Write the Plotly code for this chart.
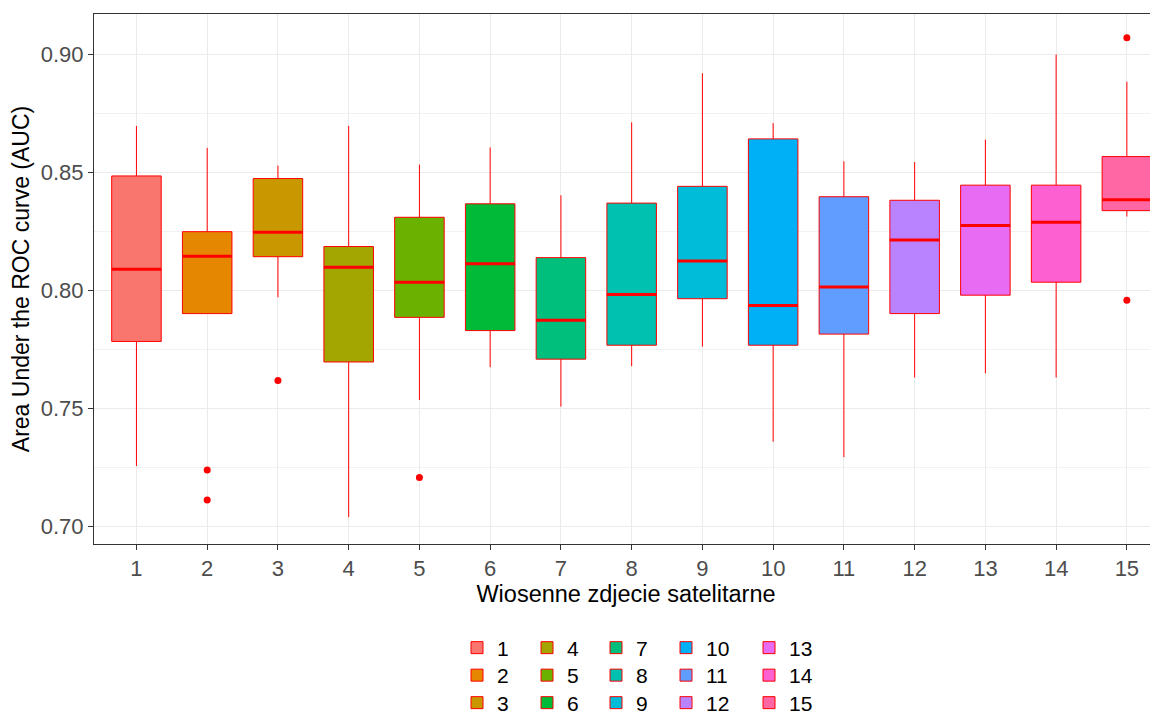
import plotly.graph_objects as go

categories = [str(i) for i in range(1, 16)]
q1 = [0.7785, 0.7903, 0.8144, 0.7698, 0.7887, 0.7831, 0.7710, 0.7769, 0.7966, 0.7769, 0.7816, 0.7903, 0.7981, 0.8036, 0.8339]
median = [0.8091, 0.8146, 0.8247, 0.8099, 0.8036, 0.8114, 0.7875, 0.7984, 0.8126, 0.7937, 0.8016, 0.8215, 0.8276, 0.8290, 0.8385]
q3 = [0.8486, 0.8250, 0.8475, 0.8187, 0.8311, 0.8368, 0.8140, 0.8371, 0.8442, 0.8643, 0.8398, 0.8383, 0.8447, 0.8447, 0.8568]
lower = [0.7257, 0.7903, 0.7972, 0.7041, 0.7537, 0.7676, 0.7509, 0.7680, 0.7763, 0.7360, 0.7295, 0.7632, 0.7650, 0.7632, 0.8314]
upper = [0.8698, 0.8605, 0.8530, 0.8698, 0.8534, 0.8607, 0.8404, 0.8713, 0.8921, 0.8710, 0.8548, 0.8545, 0.8640, 0.9000, 0.8885]
outlier_x = [2, 2, 3, 5, 15, 15]
outlier_y = [0.7240, 0.7113, 0.7620, 0.7209, 0.9071, 0.7960]
colors = ["#F8766D", "#E58700", "#C99800", "#A3A500", "#6BB100", "#00BA38", "#00BF7D", "#00C0AF",
          "#00BCD8", "#00B0F6", "#619CFF", "#B983FF", "#E76BF3", "#FD61D1", "#FF67A4"]
y_ticks = [0.70, 0.75, 0.80, 0.85, 0.90]
y_minor = [0.725, 0.775, 0.825, 0.875]

OFF = 8  # page body margin
W, H = 1158 - OFF, 715 - OFF
FONT = "Liberation Sans, Arial, sans-serif"
BOXW = 0.7

left, right, top, bottom = 94 - OFF, 0, 14 - OFF, 171
plot_w = W - left - right
plot_h = H - top - bottom

# legend grid (page pixels): 5 columns x 3 rows, filled column-wise
leg_cols = [457, 527, 596, 666, 749]
leg_rows = [648, 675.5, 703]

fig = go.Figure()
for i, cat in enumerate(categories):
    xi = i + 1
    ln = "legend" if i == 0 else "legend%d" % (i + 1)
    fig.add_trace(go.Box(
        x=[xi], q1=[q1[i]], median=[median[i]], q3=[q3[i]],
        lowerfence=[lower[i]], upperfence=[upper[i]],
        name=cat, width=BOXW, fillcolor=colors[i],
        line=dict(color="#FF0000", width=1), boxpoints=False,
        legend=ln, whiskerwidth=0,
    ))
    colx = leg_cols[i // 3] - OFF
    rowy = leg_rows[i % 3] - OFF
    fig.update_layout(**{ln: dict(
        x=(colx - left) / plot_w, y=((top + plot_h) - rowy) / plot_h,
        xanchor="left", yanchor="middle", orientation="v",
        font=dict(family=FONT, size=21, color="#000000"),
        bgcolor="rgba(0,0,0,0)", itemwidth=30,
    )})
for i, cat in enumerate(categories):
    xi = i + 1
    fig.add_trace(go.Scatter(
        x=[xi - BOXW / 2, xi + BOXW / 2], y=[median[i], median[i]], mode="lines",
        line=dict(color="#FF0000", width=3), showlegend=False, hoverinfo="skip",
    ))
fig.add_trace(go.Scatter(
    x=outlier_x, y=outlier_y, mode="markers",
    marker=dict(color="#FF0000", size=7), showlegend=False,
))

fig.update_layout(
    width=W, height=H,
    margin=dict(l=left, r=right, t=top, b=bottom, autoexpand=False),
    paper_bgcolor="white", plot_bgcolor="white",
    font=dict(family=FONT),
    showlegend=True,
    xaxis=dict(
        range=[0.4, 15.44], tickvals=list(range(1, 16)), ticktext=categories,
        showgrid=True, gridcolor="#EBEBEB", gridwidth=1,
        showline=True, mirror=True, linecolor="#333333", linewidth=1,
        ticks="outside", ticklen=5, tickcolor="#333333",
        tickfont=dict(size=22, color="#4D4D4D", family=FONT),
        title=dict(text="Wiosenne zdjecie satelitarne", font=dict(size=23.5, color="#000000", family=FONT), standoff=5),
        zeroline=False, automargin=False,
    ),
    yaxis=dict(
        range=[0.6927, 0.9172], tickvals=y_ticks, ticktext=["%.2f" % v for v in y_ticks],
        showgrid=True, gridcolor="#EBEBEB", gridwidth=1,
        minor=dict(tickvals=y_minor, showgrid=True, gridcolor="#F2F2F2", gridwidth=0.6, ticks=""),
        showline=True, mirror=True, linecolor="#333333", linewidth=1,
        ticks="outside", ticklen=5, tickcolor="#333333",
        tickfont=dict(size=22, color="#4D4D4D", family=FONT),
        title=dict(text="Area Under the ROC curve (AUC)", font=dict(size=23, color="#000000", family=FONT), standoff=10),
        zeroline=False, automargin=False,
    ),
)

fig.write_html("out.html")
